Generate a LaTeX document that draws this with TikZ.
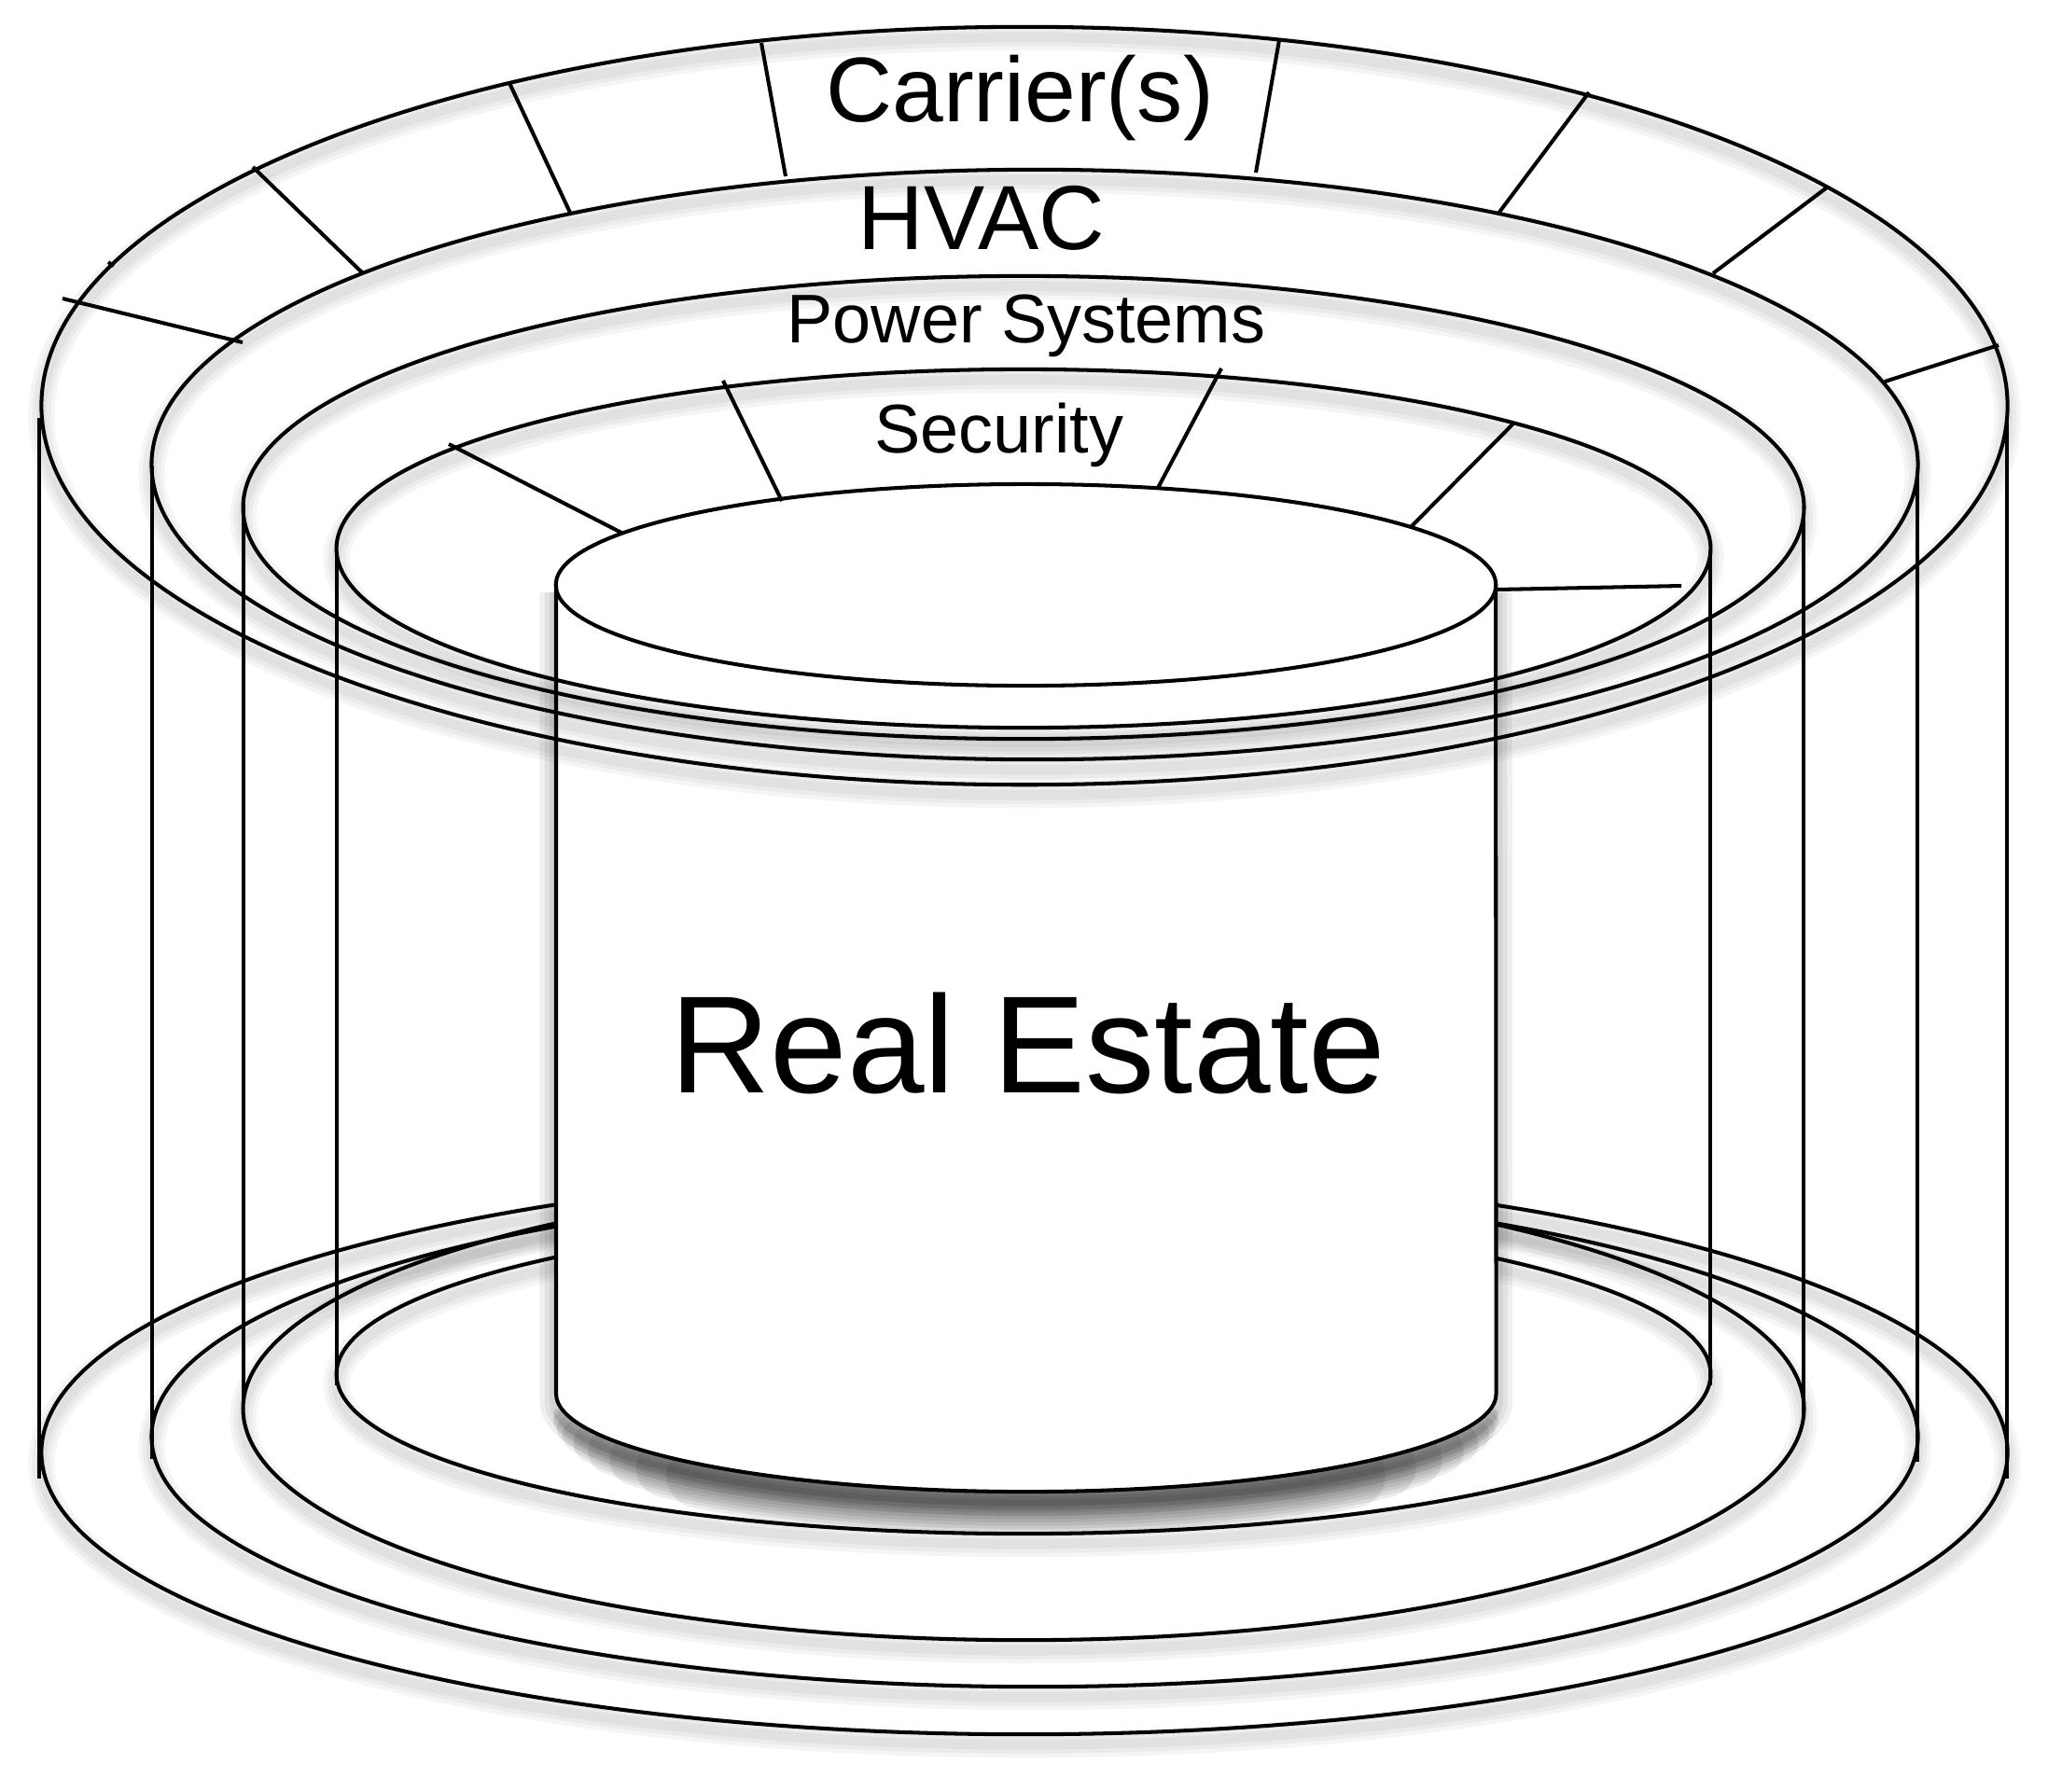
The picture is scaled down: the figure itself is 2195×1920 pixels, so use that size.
\documentclass[tikz,border=0pt]{standalone}
\usepackage{fontspec}
\setmainfont{Liberation Sans}
\newcommand\shadowpath[2][0.04]{%
  \foreach \w in {8pt,5.5pt,3pt}{\path[draw=black,draw opacity=#1,line width=\w,transform canvas={yshift=-0.11cm}] #2;}}
\begin{document}
\begin{tikzpicture}[x=0.01cm,y=-0.01cm,line width=1.15pt,line join=round,
  lbl/.style={inner sep=0pt,anchor=base,text=black}]
\useasboundingbox[fill=white] (0,0) rectangle (2195,1920);
% ellipse centres
\coordinate (t1) at (1098,435);
\coordinate (t2) at (1109,498);
\coordinate (t3) at (1097,544);
\coordinate (t4) at (1097,588);
\coordinate (tc) at (1099.5,627);
\coordinate (b1) at (1098,1557);
\coordinate (b2) at (1109,1540);
\coordinate (b3) at (1097,1510);
\coordinate (b4) at (1097,1473);
% bottom ellipses
\shadowpath{(b1) ellipse[x radius=10.53cm,y radius=3.02cm]}
\shadowpath{(b2) ellipse[x radius=9.46cm,y radius=2.68cm]}
\shadowpath{(b3) ellipse[x radius=8.36cm,y radius=2.48cm]}
\shadowpath{(b4) ellipse[x radius=7.36cm,y radius=1.71cm]}
\draw (b1) ellipse[x radius=10.53cm,y radius=3.02cm];
\draw (b2) ellipse[x radius=9.46cm,y radius=2.68cm];
\draw (b3) ellipse[x radius=8.36cm,y radius=2.48cm];
\draw (b4) ellipse[x radius=7.36cm,y radius=1.71cm];
% verticals
\draw (42,448) -- (42,1585);
\draw (2151,453) -- (2151,1585);
\draw (163,499) -- (163,1564);
\draw (2055,505) -- (2055,1567);
\draw (261,540) -- (261,1503);
\draw (1933,554) -- (1933,1520);
\draw (361,591) -- (361,1485);
\draw (1833,590) -- (1833,1485);
% cylinder shadow
\foreach \w in {10pt,7pt,4pt}{\path[draw=black,draw opacity=0.06,line width=\w,transform canvas={yshift=-0.08cm}]
  (596,627) -- (596,1494) arc[start angle=180,end angle=360,x radius=5.035cm,y radius=1.05cm] -- (1603,627);}
\foreach \w/\a in {20pt/226,18pt/220,16pt/214,14pt/208,12pt/203,10pt/198,8pt/194,6pt/190,4pt/187,2pt/184}{\path[draw=black,draw opacity=0.075,line width=\w,line cap=round,transform canvas={yshift=-0.12cm}]
  ([shift={(\a:5.035cm and 1.05cm)}]1099.5,1494) arc[start angle=\a,end angle=540-\a,x radius=5.035cm,y radius=1.05cm];}
% cylinder body
\fill[white] (596,627) -- (596,1494) arc[start angle=180,end angle=360,x radius=5.035cm,y radius=1.05cm] -- (1603,627) -- cycle;
\filldraw[fill=white] (tc) ellipse[x radius=5.035cm,y radius=1.08cm];
\draw (596,627) -- (596,1494) arc[start angle=180,end angle=360,x radius=5.035cm,y radius=1.05cm] -- (1603,627);
% top ring ellipses
\shadowpath{(t1) ellipse[x radius=10.53cm,y radius=4.06cm]}
\shadowpath{(t2) ellipse[x radius=9.46cm,y radius=3.16cm]}
\shadowpath{(t3) ellipse[x radius=8.36cm,y radius=2.48cm]}
\shadowpath{(t4) ellipse[x radius=7.36cm,y radius=1.92cm]}
\draw (t1) ellipse[x radius=10.53cm,y radius=4.06cm];
\draw (t2) ellipse[x radius=9.46cm,y radius=3.16cm];
\draw (t3) ellipse[x radius=8.36cm,y radius=2.48cm];
\draw (t4) ellipse[x radius=7.36cm,y radius=1.92cm];
% carrier dividers
\draw (816,46) -- (842,189);
\draw (546,89) -- (612,230);
\draw (271,179) -- (389,293);
\draw (67,320) -- (260,367);
\draw (116,281) -- (122,285);
\draw (1371,43) -- (1346,185);
\draw (1703,99) -- (1605,230);
\draw (1958,201) -- (1836,293);
\draw (2142,370) -- (2020,409);
% security dividers
\draw (775,408) -- (838,537);
\draw (481,476) -- (666,571);
\draw (1309,395) -- (1241,523);
\draw (1623,453) -- (1512,565);
\draw (1604,632) -- (1802,628);
% labels
\node[lbl,font=\fontsize{28}{30}\selectfont] (carrier) at (1093,130) {Carrier(s)};
\node[lbl,font=\fontsize{27.8}{30}\selectfont] (hvac) at (1052,267) {HVAC};
\node[lbl,font=\fontsize{21}{24}\selectfont] (power) at (1100,367) {Power Systems};
\node[lbl,font=\fontsize{21}{24}\selectfont] (security) at (1071,485) {Security};
\node[lbl,font=\fontsize{42.2}{46}\selectfont] (realestate) at (1102,1171) {Real Estate};
\end{tikzpicture}
\end{document}
